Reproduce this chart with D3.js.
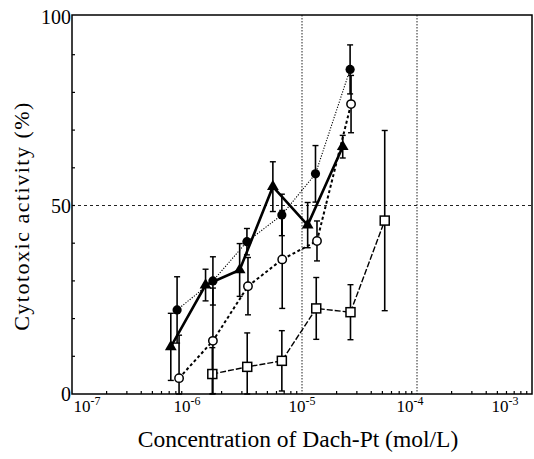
<!DOCTYPE html>
<head>
    <script src="https://d3js.org/d3.v7.min.js"></script>
    <style>
        body{
            margin: 0;
            background: #fff;
        }
        svg{
            display: block;
            font-family: "Liberation Serif", "DejaVu Serif", serif;
        }
    </style>
</head>
<body>
    <svg id="chart" width="534" height="459"></svg>
    <script>
        // Concentrations (mol/L) and cytotoxic activity (%) with error bars
        var filledConc = [8.2e-7, 1.68e-6, 3.32e-6, 6.68e-6, 1.31e-5, 2.62e-5];
        var filledVal  = [22.3, 30.0, 40.4, 47.5, 58.4, 86.1];
        var filledErr  = [8.8, 6.4, 3.5, 5.5, 7.5, 6.5];

        var triConc = [7.23e-7, 1.45e-6, 2.87e-6, 5.58e-6, 1.12e-5, 2.26e-5];
        var triVal  = [12.5, 28.9, 32.9, 55.0, 44.8, 65.6];
        var triErr  = [8.9, 4.2, 7.0, 6.6, 6.0, 3.0];

        var openConc = [8.53e-7, 1.68e-6, 3.39e-6, 6.73e-6, 1.35e-5, 2.67e-5];
        var openVal  = [4.2, 14.1, 28.6, 35.7, 40.6, 76.9];
        var openErr  = [11.4, 14.0, 7.6, 13.0, 5.3, 7.6];

        var sqConc = [1.66e-6, 3.34e-6, 6.68e-6, 1.33e-5, 2.64e-5, 5.24e-5];
        var sqVal  = [5.3, 7.2, 8.8, 22.7, 21.7, 46.0];
        var sqErr  = [7.0, 9.0, 8.0, 8.2, 7.3, 23.9];

        var xTicks = [1e-7, 1e-6, 1e-5, 1e-4, 1e-3];
        var xExp = ["-7", "-6", "-5", "-4", "-3"];
        var yTicks = [0, 50, 100];

        var svg = d3.select("#chart");
        var mLeft = 72, mRight = 532, mTop = 15, mBottom = 394;

        var x = d3.scaleLog().domain([1e-7, 1e-3]).range([mLeft, mRight]);
        var y = d3.scaleLinear().domain([0, 100]).range([mBottom, mTop + 2]);

        // grid lines
        svg.append("line")
            .attr("x1", mLeft).attr("x2", mRight)
            .attr("y1", y(50)).attr("y2", y(50))
            .attr("stroke", "#222").attr("stroke-width", 1)
            .attr("stroke-dasharray", "3,3");
        [1e-5, 1e-4].forEach(function(v){
            svg.append("line")
                .attr("x1", x(v)).attr("x2", x(v))
                .attr("y1", mTop).attr("y2", mBottom)
                .attr("stroke", "#222").attr("stroke-width", 1)
                .attr("stroke-dasharray", "1.5,1.5");
        });

        // frame
        svg.append("rect")
            .attr("x", mLeft).attr("y", mTop)
            .attr("width", mRight - mLeft).attr("height", mBottom - mTop)
            .attr("fill", "none").attr("stroke", "#000").attr("stroke-width", 1.5);

        // minor ticks, x axis (inward)
        var minor = [];
        for (var e = -7; e < -3; e++) {
            for (var m = 2; m <= 9; m++) minor.push(m * Math.pow(10, e));
        }
        svg.selectAll(".xminor")
            .data(minor)
            .enter()
            .append("line")
            .attr("x1", d => x(d)).attr("x2", d => x(d))
            .attr("y1", mBottom).attr("y2", mBottom - 3)
            .attr("stroke", "#000").attr("stroke-width", 1.2);

        // y ticks (inward)
        svg.selectAll(".yminor")
            .data(d3.range(10, 100, 10))
            .enter()
            .append("line")
            .attr("x1", mLeft).attr("x2", mLeft + 3)
            .attr("y1", d => y(d)).attr("y2", d => y(d))
            .attr("stroke", "#000").attr("stroke-width", 1.2);

        // tick labels
        svg.selectAll(".ylab")
            .data(yTicks)
            .enter()
            .append("text")
            .attr("x", mLeft - 1)
            .attr("y", d => y(d) + 7)
            .attr("text-anchor", "end")
            .style("font-size", "20px")
            .text(d => d);

        var xl = svg.selectAll(".xlab")
            .data(xTicks)
            .enter()
            .append("text")
            .attr("x", (d, i) => i == 3 ? x(d) - 7 : Math.max(87, Math.min(x(d), 505)))
            .attr("y", 412)
            .attr("text-anchor", "middle")
            .style("font-size", "17px");
        xl.append("tspan").text("10");
        xl.append("tspan")
            .attr("dy", -7)
            .style("font-size", "12px")
            .text((d, i) => xExp[i]);

        // axis titles
        svg.append("text")
            .attr("x", 298)
            .attr("y", 447)
            .attr("text-anchor", "middle")
            .style("font-size", "23.5px")
            .text("Concentration of Dach-Pt (mol/L)");

        svg.append("text")
            .attr("transform", "translate(29," + 216 + ") rotate(-90)")
            .attr("text-anchor", "middle")
            .style("font-size", "22px")
            .style("letter-spacing", "1.5px")
            .text("Cytotoxic activity (%)");

        // series
        function build(conc, val, err) {
            return conc.map((c, i) => ({c: c, v: val[i], e: err[i]}));
        }
        var series = [
            {data: build(sqConc, sqVal, sqErr), dash: "6,2", width: 1.4, marker: "square"},
            {data: build(openConc, openVal, openErr), dash: "3,2.5", width: 2, marker: "open"},
            {data: build(filledConc, filledVal, filledErr), dash: "1.2,1.5", width: 1.1, marker: "filled"},
            {data: build(triConc, triVal, triErr), dash: null, width: 2.6, marker: "tri"}
        ];

        var line = d3.line().x(d => x(d.c)).y(d => y(d.v));

        series.forEach(function(s){
            var g = svg.append("g");

            // error bars
            var eb = g.selectAll(".eb")
                .data(s.data)
                .enter()
                .append("g");
            eb.append("line")
                .attr("x1", d => x(d.c)).attr("x2", d => x(d.c))
                .attr("y1", d => y(Math.min(100, d.v + d.e)))
                .attr("y2", d => y(Math.max(0, d.v - d.e)))
                .attr("stroke", "#000").attr("stroke-width", 1.6);
            eb.append("line")
                .attr("x1", d => x(d.c) - 3).attr("x2", d => x(d.c) + 3)
                .attr("y1", d => y(Math.min(100, d.v + d.e)))
                .attr("y2", d => y(Math.min(100, d.v + d.e)))
                .attr("stroke", "#000").attr("stroke-width", 1.4);
            eb.append("line")
                .attr("x1", d => x(d.c) - 3).attr("x2", d => x(d.c) + 3)
                .attr("y1", d => y(Math.max(0, d.v - d.e)))
                .attr("y2", d => y(Math.max(0, d.v - d.e)))
                .attr("stroke", "#000").attr("stroke-width", 1.4);

            g.append("path")
                .datum(s.data)
                .attr("d", line)
                .attr("fill", "none")
                .attr("stroke", "#000")
                .attr("stroke-width", s.width)
                .attr("stroke-dasharray", s.dash);

            var pts = g.selectAll(".pt")
                .data(s.data)
                .enter();
            if (s.marker == "square") {
                pts.append("rect")
                    .attr("x", d => x(d.c) - 4.5).attr("y", d => y(d.v) - 4.5)
                    .attr("width", 9).attr("height", 9)
                    .attr("fill", "#fff").attr("stroke", "#000").attr("stroke-width", 1.5);
            } else if (s.marker == "open") {
                pts.append("circle")
                    .attr("cx", d => x(d.c)).attr("cy", d => y(d.v))
                    .attr("r", 4.2)
                    .attr("fill", "#fff").attr("stroke", "#000").attr("stroke-width", 1.5);
            } else if (s.marker == "filled") {
                pts.append("circle")
                    .attr("cx", d => x(d.c)).attr("cy", d => y(d.v))
                    .attr("r", 4.6)
                    .attr("fill", "#000");
            } else {
                pts.append("path")
                    .attr("transform", d => "translate(" + x(d.c) + "," + y(d.v) + ")")
                    .attr("d", d3.symbol().type(d3.symbolTriangle).size(60))
                    .attr("fill", "#000");
            }
        });
    </script>
</body>
</html>
